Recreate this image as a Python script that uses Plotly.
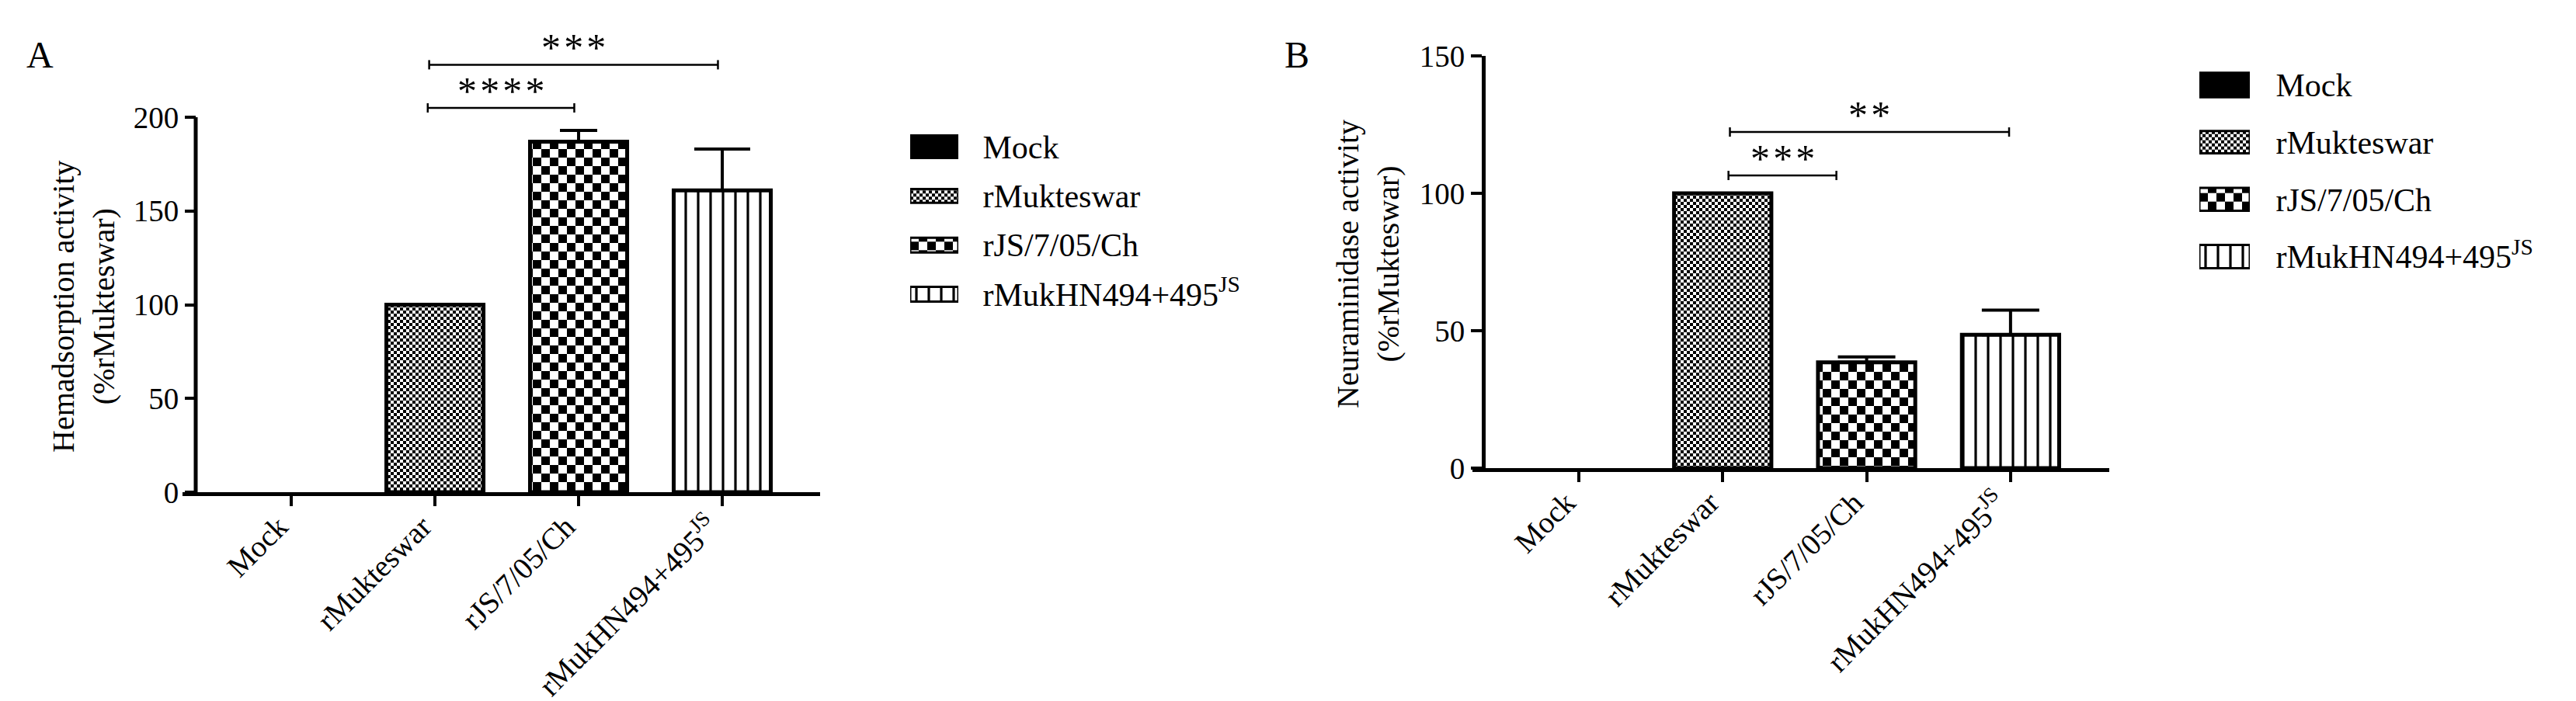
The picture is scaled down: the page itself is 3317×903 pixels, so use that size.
import plotly.graph_objects as go

# ---------------- data ----------------
categories = ["Mock", "rMukteswar", "rJS/7/05/Ch", "rMukHN494+495<sup>JS</sup>"]
hemadsorption = [0, 100, 187, 161]
hemadsorption_err = [0, 0, 6, 22]
neuraminidase = [0, 100, 38.5, 48.5]
neuraminidase_err = [0, 0, 2, 9]
y_ticks_a = [0, 50, 100, 150, 200]
y_ticks_b = [0, 50, 100, 150]
# significance brackets: (start position, end position, height, label)
sig_a = [(0.95, 1.97, 205, "****"), (0.96, 2.97, 228, "***")]
sig_b = [(1.04, 1.79, 106.5, "***"), (1.05, 2.99, 122.3, "**")]
title_a = "Hemadsorption activity<br>(%rMukteswar)"
title_b = "Neuraminidase activity<br>(%rMukteswar)"

# ---------------- geometry helpers ----------------
W, H = 3317, 903
FONT = "Liberation Serif"


def px(x):
    return x / W


def py(y):
    return 1 - y / H


def checker_pattern(size):
    half = size / 2
    path = f"M0,0H{half}V{half}H0Z M{half},{half}H{size}V{size}H{half}Z"
    try:
        return go.bar.marker.Pattern(path=path, size=size, fgcolor="black",
                                     bgcolor="white", fgopacity=1)
    except ValueError:
        return go.bar.marker.Pattern(shape="+", size=size, solidity=0.5,
                                     fgcolor="black", bgcolor="white", fgopacity=1)


stripes = go.bar.marker.Pattern(shape="|", size=16, solidity=0.2, fgcolor="black",
                                bgcolor="white", fgopacity=1)
patterns = [None, checker_pattern(8), checker_pattern(22), stripes]
fills = ["black", "white", "white", "white"]
outline = [0, 5, 5, 5]

fig = go.Figure()

panels = [
    (hemadsorption, hemadsorption_err, "x", "y", [0, 0, 24, 36]),
    (neuraminidase, neuraminidase_err, "x2", "y2", [0, 0, 37, 37]),
]
for vals, errs, xa, ya, caps in panels:
    for i, cat in enumerate(categories):
        fig.add_bar(
            x=[cat], y=[vals[i]], width=0.676, xaxis=xa, yaxis=ya, name=cat,
            marker=dict(color=fills[i], pattern=patterns[i],
                        line=dict(color="black", width=outline[i])),
            error_y=dict(type="data", array=[errs[i]], arrayminus=[0], symmetric=False,
                         visible=errs[i] > 0, color="black", thickness=4, width=caps[i]),
        )

# legend swatches (one per panel) as horizontal bars on hidden axes
legend_specs = [("x3", "y3", [0.46, 0.28, 0.30, 0.30]),
                ("x4", "y4", [0.43, 0.39, 0.40, 0.41])]
for xa, ya, thick in legend_specs:
    for i, cat in enumerate(categories):
        fig.add_bar(
            x=[1], y=[cat], orientation="h", width=thick[i], xaxis=xa, yaxis=ya,
            marker=dict(color=fills[i], pattern=patterns[i],
                        line=dict(color="black", width=3)),
        )

shapes = []
annotations = []


def add_brackets(sigs, xref, yref, tick_px):
    for x0, x1, yv, label in sigs:
        shapes.append(dict(type="line", xref=xref, yref=yref, x0=x0, x1=x1, y0=yv, y1=yv,
                           line=dict(color="black", width=2.5)))
        for xe in (x0, x1):
            shapes.append(dict(type="line", xref=xref, yref=yref, x0=xe, x1=xe,
                               ysizemode="pixel", yanchor=yv, y0=-tick_px, y1=tick_px,
                               line=dict(color="black", width=2.5)))
        annotations.append(dict(x=(x0 + x1) / 2, y=yv, xref=xref, yref=yref,
                                text="\u200a".join(label), showarrow=False,
                                yanchor="middle", yshift=22,
                                font=dict(family=FONT, size=50, color="black")))


add_brackets(sig_a, "x", "y", 6)
add_brackets(sig_b, "x2", "y2", 6)

# y-axis line for panel A (0..200 only)
shapes.append(dict(type="line", xref="paper", yref="y", x0=px(252), x1=px(252),
                   y0=y_ticks_a[0], y1=y_ticks_a[-1], line=dict(color="black", width=5)))

# panel letters and axis titles
annotations += [
    dict(x=px(51), y=py(70), xref="paper", yref="paper", text="A", showarrow=False,
         xanchor="center", yanchor="middle", font=dict(family=FONT, size=48, color="black")),
    dict(x=px(1670), y=py(70), xref="paper", yref="paper", text="B", showarrow=False,
         xanchor="center", yanchor="middle", font=dict(family=FONT, size=48, color="black")),
    dict(x=px(107), y=py(395), xref="paper", yref="paper", text=title_a, showarrow=False,
         textangle=-90, xanchor="center", yanchor="middle",
         font=dict(family=FONT, size=40, color="black")),
    dict(x=px(1761), y=py(340), xref="paper", yref="paper", text=title_b, showarrow=False,
         textangle=-90, xanchor="center", yanchor="middle",
         font=dict(family=FONT, size=40, color="black")),
]

tickfont = dict(family=FONT, size=39, color="black")
xcommon = dict(type="category", categoryorder="array", categoryarray=categories,
               showline=True, linewidth=5, linecolor="black", ticks="outside",
               ticklen=13, tickwidth=4, tickcolor="black", tickangle=-45,
               ticklabelstandoff=-12, ticklabelshift=-16,
               tickfont=tickfont, showgrid=False, zeroline=False, automargin=False)
ycommon = dict(ticks="outside", ticklen=14, tickwidth=4, tickcolor="black",
               tickfont=tickfont, showgrid=False, zeroline=False, anchor="free",
               automargin=False)
legy = dict(type="category", categoryorder="array", categoryarray=categories,
            autorange="reversed", side="right", showgrid=False, zeroline=False,
            showline=False, ticks="outside", tickcolor="rgba(0,0,0,0)", automargin=False,
            tickfont=dict(family=FONT, size=42, color="black"))
legx = dict(range=[0, 1], visible=False, showgrid=False, zeroline=False, automargin=False)

fig.update_layout(
    width=W, height=H, margin=dict(l=0, r=0, t=0, b=0, pad=0, autoexpand=False),
    paper_bgcolor="white", plot_bgcolor="white", showlegend=False,
    barmode="overlay", font=dict(family=FONT, color="black"),
    xaxis=dict(domain=[px(235), px(1056)], range=[-0.757, 3.681], anchor="y", **xcommon),
    yaxis=dict(domain=[py(634), py(60)], range=[0, 237.7], position=px(252),
               tickvals=y_ticks_a, showline=False, **ycommon),
    xaxis2=dict(domain=[px(1896), px(2716)], range=[-0.739, 3.686], anchor="y2", **xcommon),
    yaxis2=dict(domain=[py(603), py(72)], range=[0, 150], position=px(1910),
                tickvals=y_ticks_b, showline=True, linewidth=5, linecolor="black", **ycommon),
    xaxis3=dict(domain=[px(1172), px(1234)], anchor="y3", **legx),
    yaxis3=dict(domain=[py(410.7), py(157.3)], anchor="x3", ticklen=22, **legy),
    xaxis4=dict(domain=[px(2832), px(2897)], anchor="y4", **legx),
    yaxis4=dict(domain=[py(367.3), py(72.7)], anchor="x4", ticklen=24, **legy),
    shapes=shapes, annotations=annotations,
)

fig.write_html(
    "out.html",
    config={"displayModeBar": False, "staticPlot": True},
    post_script="document.body.style.margin='0px';document.body.style.overflow='hidden';",
)
